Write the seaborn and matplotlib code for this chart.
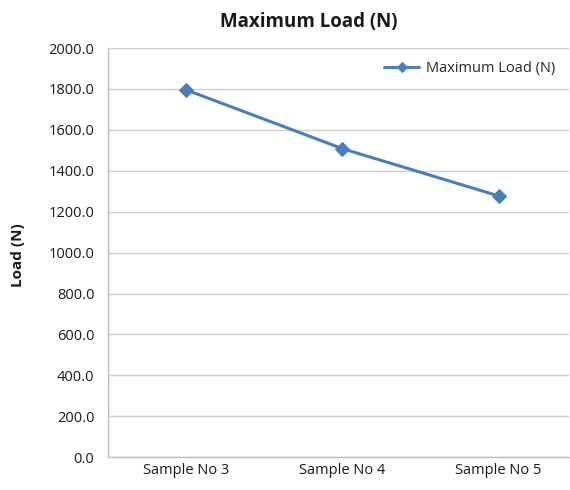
import matplotlib
matplotlib.use("Agg")
import matplotlib.pyplot as plt
import seaborn as sns
import pandas as pd

categories = ["Sample No 3", "Sample No 4", "Sample No 5"]
max_load = [1795.0, 1508.0, 1277.0]
y_ticks = [0, 200, 400, 600, 800, 1000, 1200, 1400, 1600, 1800, 2000]

sns.set_theme(style="white")
plt.rcParams['font.family'] = ['Open Sans', 'DejaVu Sans']

df = pd.DataFrame({"Sample": categories, "Maximum Load (N)": max_load})

fig = plt.figure(figsize=(5.7, 4.9), dpi=100)
ax = fig.add_axes([0.19, 0.067, 0.808, 0.835])

sns.lineplot(data=df, x="Sample", y="Maximum Load (N)", ax=ax, color="#4A7EBB",
             linewidth=2.2, marker="D", markersize=7, markeredgecolor="#4A7EBB",
             label="Maximum Load (N)", sort=False)

ax.set_xlim(-0.5, 2.45)
ax.set_ylim(0, 2000)
ax.set_yticks(y_ticks)
ax.set_yticklabels([f"{v:.1f}" for v in y_ticks], fontsize=10.5, color="#1a1a1a")
ax.tick_params(axis="x", labelsize=10.5, pad=4, length=0, colors="#1a1a1a")
ax.tick_params(axis="y", length=0, pad=10, colors="#1a1a1a")
ax.yaxis.grid(True, color="#D0D0D0", linewidth=1)
ax.set_axisbelow(True)
for s in ["top", "right"]:
    ax.spines[s].set_visible(False)
for s in ["left", "bottom"]:
    ax.spines[s].set_color("#BFBFBF")
    ax.spines[s].set_linewidth(1)

ax.set_xlabel("")
ax.set_ylabel("")
fig.text(0.032, 0.48, "Load (N)", rotation=90, fontsize=11, fontweight="bold",
         ha="center", va="center", color="#1a1a1a")
fig.text(0.542, 0.955, "Maximum Load (N)", fontsize=13.5, fontweight="bold",
         ha="center", va="center", color="#1a1a1a")

leg = ax.legend(loc="upper right", frameon=False, fontsize=10.5, handlelength=2.4,
                markerscale=0.75, handletextpad=0.5, bbox_to_anchor=(1.0, 1.0))

fig.savefig("out.png", dpi=100)
